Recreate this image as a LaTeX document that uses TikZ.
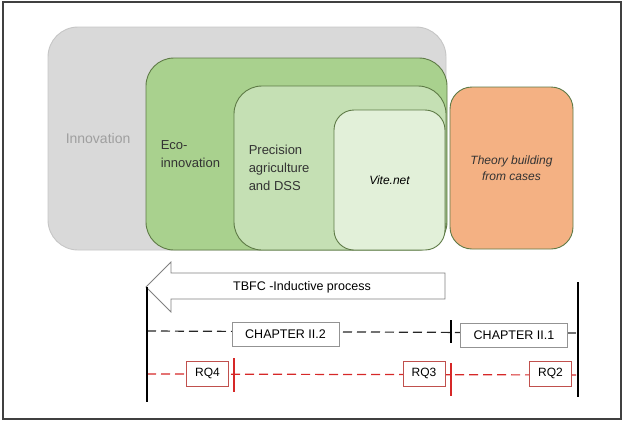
\documentclass[tikz,border=0pt]{standalone}
\usepackage{fontspec}
\setmainfont{Liberation Sans}
\usetikzlibrary{positioning,arrows.meta}
\definecolor{innovgray}{HTML}{D9D9D9}
\definecolor{ecogreen}{HTML}{A9D18E}
\definecolor{precgreen}{HTML}{C5E0B4}
\definecolor{vitegreen}{HTML}{E2F0D9}
\definecolor{tbfcorange}{HTML}{F4B183}
\definecolor{boxline}{HTML}{5E7A46}
\definecolor{rqred}{HTML}{C0504D}
\definecolor{tickred}{HTML}{D62828}

\begin{document}
\begin{tikzpicture}[x=1pt, y=-1pt,
    box/.style={draw=boxline, line width=0.9pt, inner sep=0pt},
    txt/.style={inner sep=0pt, align=left, text=black!80,
        font=\fontsize{13}{18}\selectfont},
    chapbox/.style={draw=gray!85, fill=white, line width=0.8pt,
        minimum width=107pt, minimum height=24pt,
        font=\fontsize{12.5}{15}\selectfont},
    rqbox/.style={draw=rqred, fill=white, line width=0.8pt,
        minimum width=42pt, minimum height=25pt,
        font=\fontsize{12}{14}\selectfont},
    chapline/.style={black!85, line width=1.2pt, dash pattern=on 9pt off 5pt},
    rqline/.style={tickred, line width=1.2pt, dash pattern=on 9pt off 5pt},
    ]
\useasboundingbox (0,0) rectangle (625,421);
\draw[black!75, line width=1.2pt] (3,2) rectangle (621,419);

\node (innov) [box, draw=gray!45, fill=innovgray, rounded corners=30pt,
    minimum width=398pt, minimum height=223pt] at (247,138.5) {};
\node (eco) [box, fill=ecogreen, rounded corners=28pt,
    minimum width=301pt, minimum height=192pt] at (296.5,154) {};
\node (prec) [box, fill=precgreen, rounded corners=28pt,
    minimum width=212pt, minimum height=164pt] at (340,168) {};
\node (vite) [box, fill=vitegreen, rounded corners=20pt,
    minimum width=111pt, minimum height=140pt] at (389.5,180) {};
\node (tbfc) [box, fill=tbfcorange, rounded corners=22pt,
    minimum width=123pt, minimum height=162pt] at (511.5,168) {};

\node (innovtxt) [txt, text=gray!75, font=\fontsize{14}{17}\selectfont,
    right=18pt of innov.west] {Innovation};
\node (ecotxt) [txt, right=15pt of eco.west] {Eco-\\innovation};
\node (prectxt) [txt, right=15pt of prec.west] {Precision\\agriculture\\and DSS};
\node (vitetxt) [txt, text=black, font=\fontsize{12}{16}\itshape] at (vite.center) {Vite.net};
\node (tbfctxt) [txt, align=center, font=\fontsize{12}{16}\itshape]
    at (tbfc.center) {Theory building\\from cases};

\draw[gray, line width=0.8pt, fill=white] (445,273) -- (171,273) -- (171,262)
    -- (146,287) -- (171,312) -- (171,299) -- (445,299) -- cycle;
\node (arrowtxt) [font=\fontsize{12.5}{15}\selectfont] at (302,287) {TBFC -Inductive process};

\coordinate (start top) at (147,287);
\coordinate (start bot) at (147,402);
\coordinate (end top) at (578,282);
\coordinate (end bot) at (578,397);
\coordinate (ch left) at (147,331);
\coordinate (ch right) at (578,333);
\coordinate (rq left) at (147,374);
\coordinate (rq right) at (578,375);
\coordinate (ch tick top) at (451,320);
\coordinate (ch tick bot) at (451,343);

\draw[chapline] (ch left) -- (ch right);
\draw[rqline] (rq left) -- (rq right);

\node (ch2) [chapbox] at (285.5,334) {CHAPTER II.2};
\node (ch1) [chapbox] at (514,335) {CHAPTER II.1};
\foreach \n/\x in {4/207.5, 3/424, 2/550.5}
    \node (rq\n) [rqbox] at (\x,373.5) {RQ\n};

\draw[black, line width=1.8pt] (start top) -- (start bot);
\draw[black, line width=1.8pt] (end top) -- (end bot);
\draw[black, line width=1.5pt] (ch tick top) -- (ch tick bot);
\foreach \n/\x/\a/\b in {a/234/358/392, b/451/363/396} {
    \coordinate (rq tick \n top) at (\x,\a);
    \coordinate (rq tick \n bot) at (\x,\b);
    \draw[tickred, line width=1.8pt] (rq tick \n top) -- (rq tick \n bot);
}
\end{tikzpicture}
\end{document}
